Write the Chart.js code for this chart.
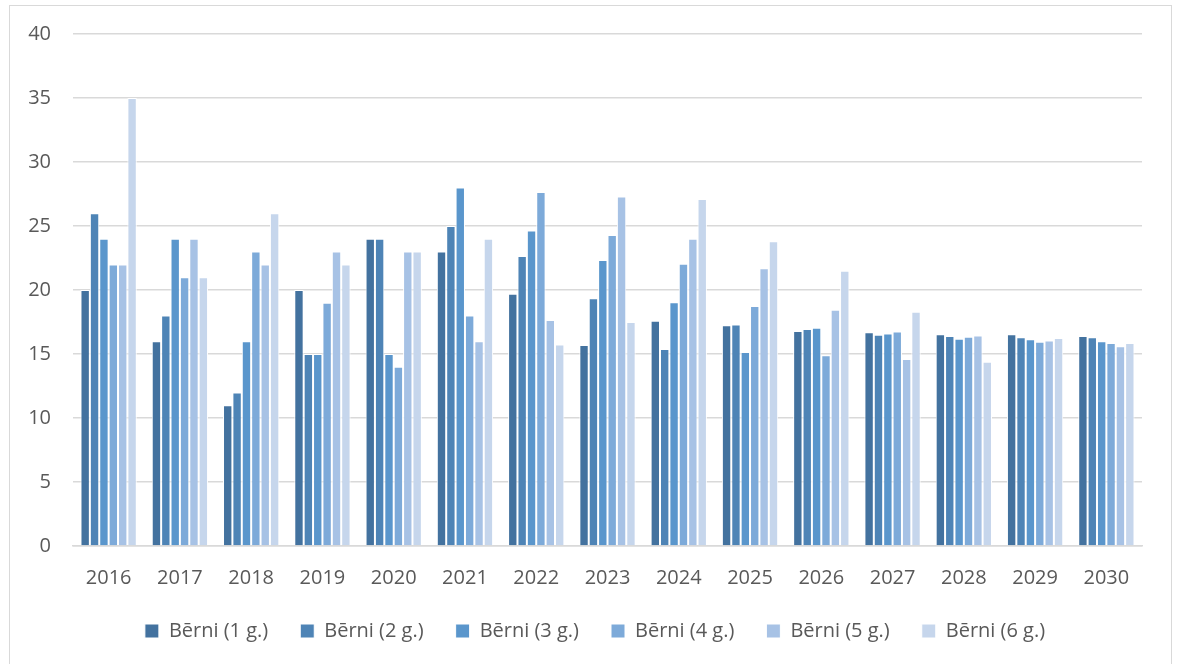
<!DOCTYPE html>
<html lang="lv">
<head>
  <meta charset="UTF-8" />
  <title>Bērni</title>
  <script src="https://cdn.jsdelivr.net/npm/chart.js"></script>
  <style>
    * { margin: 0; padding: 0; box-sizing: border-box; }
    body { background: #fff; width: 1180px; height: 664px; overflow: hidden; position: relative; }
    .frame {
      position: absolute; left: 9px; top: 5px; width: 1163px; height: 700px;
      border: 1px solid #d9d9d9;
    }
    .wrap { position: absolute; left: 0; top: 0; width: 1180px; height: 664px; }
  </style>
</head>
<body>
  <div class="frame"></div>
  <div class="wrap"><canvas id="chart"></canvas></div>

  <script>
    const years = ['2016','2017','2018','2019','2020','2021','2022','2023','2024','2025','2026','2027','2028','2029','2030'];

    const berni1 = [20, 16, 11, 20, 24, 23, 19.7, 15.7, 17.6, 17.25, 16.8, 16.7, 16.55, 16.55, 16.4];
    const berni2 = [26, 18, 12, 15, 24, 25, 22.65, 19.35, 15.4, 17.3, 16.95, 16.5, 16.4, 16.3, 16.3];
    const berni3 = [24, 24, 16, 15, 15, 28, 24.65, 22.35, 19.05, 15.15, 17.05, 16.6, 16.2, 16.15, 16.0];
    const berni4 = [22, 21, 23, 19, 14, 18, 27.65, 24.3, 22.05, 18.75, 14.9, 16.75, 16.35, 15.95, 15.85];
    const berni5 = [22, 24, 22, 23, 23, 16, 17.65, 27.3, 24.0, 21.7, 18.45, 14.6, 16.45, 16.05, 15.6];
    const berni6 = [35, 21, 26, 22, 23, 24, 15.75, 17.5, 27.1, 23.8, 21.5, 18.3, 14.4, 16.25, 15.85];

    const seriesNames = ['Bērni (1 g.)', 'Bērni (2 g.)', 'Bērni (3 g.)', 'Bērni (4 g.)', 'Bērni (5 g.)', 'Bērni (6 g.)'];
    const colors = ['#43729f', '#4e84b6', '#5a96cc', '#7daad9', '#a7c2e5', '#c6d6ec'];
    const allSeries = [berni1, berni2, berni3, berni4, berni5, berni6];

    const textColor = '#595959';
    const fontFamily = "'Open Sans', sans-serif";

    const datasets = allSeries.map((d, i) => ({
      label: seriesNames[i],
      data: d,
      backgroundColor: colors[i],
      borderColor: '#ffffff',
      borderWidth: 1,
      borderSkipped: 'bottom',
      categoryPercentage: 0.79,
      barPercentage: 1.0
    }));

    // scale boxes are squeezed for the layout, so open up their label clip areas
    const unclip = {
      id: 'unclip',
      afterLayout(chart) {
        chart.scales.y.left = 0;
        chart.scales.x.bottom = chart.height;
      }
    };

    const ctx = document.getElementById('chart').getContext('2d');
    new Chart(ctx, {
      type: 'bar',
      data: { labels: years, datasets: datasets },
      plugins: [unclip],
      options: {
        responsive: true,
        maintainAspectRatio: false,
        animation: false,
        layout: { padding: { top: 32, right: 38, left: 48, bottom: 13 } },
        plugins: {
          tooltip: { enabled: false },
          legend: {
            position: 'bottom',
            maxHeight: 78,
            labels: {
              color: textColor,
              font: { family: fontFamily, size: 20 },
              boxWidth: 14,
              boxHeight: 14,
              padding: 32
            }
          }
        },
        scales: {
          x: {
            afterFit: scale => { scale.height = 43; },
            grid: { display: false, drawTicks: false },
            border: { display: true, color: '#d9d9d9', width: 1.5 },
            ticks: { color: textColor, font: { family: fontFamily, size: 20 }, padding: 20 }
          },
          y: {
            min: 0,
            max: 40,
            afterFit: scale => { scale.width = 25; },
            grid: { color: '#d9d9d9', lineWidth: 1.5, drawTicks: false },
            border: { display: false },
            ticks: { stepSize: 5, color: textColor, font: { family: fontFamily, size: 20 }, padding: 22 }
          }
        }
      }
    });
  </script>
</body>
</html>
